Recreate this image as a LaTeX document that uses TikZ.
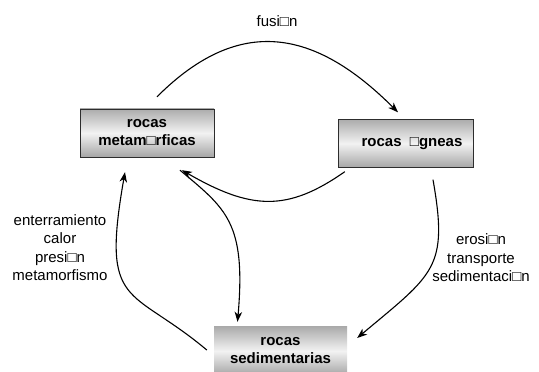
\documentclass[tikz,border=0pt]{standalone}
\usepackage{fontspec}
\setmainfont{Liberation Sans}
\usepackage{tikz}
\usetikzlibrary{positioning}
\usetikzlibrary{shapes,arrows.meta}
\tikzset{%
  block/.style    = {draw=gray!35!black, thin, rectangle, minimum height = 48pt,
    minimum width = 134pt, inner sep = 0pt, align = center,
    font = \fontsize{15}{18}\selectfont\bfseries,
    top color = gray!65, bottom color = gray!70, middle color = gray!10},
  notes/.style    = {align = center, inner sep = 0pt}, % process labels
  cycle/.style    = {->, line width = 1.1pt}
}

\begin{document}
\begin{tikzpicture}[x=1pt, y=1pt, font=\fontsize{15}{18.5}\selectfont,
    >={Stealth[length=10pt, width=7.5pt, inset=3pt]}]

  \useasboundingbox (0,0) rectangle (539,372);

  \draw node at (147,239) [block] (meta) {rocas\\metam□rficas};
  \draw node at (405.5,228.5) [block, minimum width = 135pt] (ign) {\hspace*{13pt}rocas \ □gneas};
  \draw node at (280.5,21) [block, draw = none, minimum width = 133pt] (sed) {rocas\\sedimentarias};

  \draw node at (277,351) [notes] (melt) {fusi□n};
  \draw node at (60,124.5) [notes] (burial) {enterramiento\\calor\\presi□n\\metamorfismo};
  \draw node at (481,114) [notes] (erosion) {erosi□n\\transporte\\sedimentaci□n};

  % the rock cycle
  \draw[cycle] ([xshift=10pt, yshift=12pt]meta.north) .. controls +(45:117) and +(135:117) .. ([xshift=-7.5pt, yshift=7pt]ign.north);
  \draw[cycle] ([xshift=7pt, yshift=-4pt]ign.south west) .. controls +(215:70) and +(-30:80) .. ([xshift=35pt, yshift=-13pt]meta.south);
  \draw[cycle] ([xshift=33pt, yshift=-13pt]meta.south) .. controls +(-40:60) and +(85:100) .. ([xshift=-43pt, yshift=5pt]sed.north);
  \draw[cycle] ([xshift=27.5pt, yshift=-12pt]ign.south) .. controls +(-80:90) and +(40:100) .. ([xshift=10pt, yshift=13pt]sed.east);
  \draw[cycle] ([xshift=-7pt, yshift=1pt]sed.west) .. controls +(140:100) and +(-100:140) .. ([xshift=-22pt, yshift=-15pt]meta.south);

\end{tikzpicture}
\end{document}
